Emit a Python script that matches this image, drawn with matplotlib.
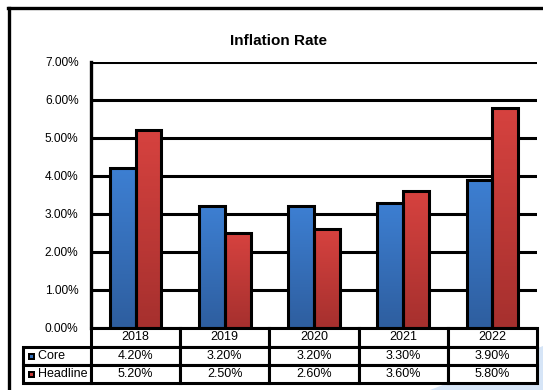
import matplotlib.pyplot as plt
import numpy as np
from matplotlib.patches import Rectangle, Polygon
from matplotlib.table import Table
from matplotlib.lines import Line2D

plt.rcParams['font.family'] = ['Liberation Sans', 'DejaVu Sans']

years = ['2018', '2019', '2020', '2021', '2022']
core = [4.20, 3.20, 3.20, 3.30, 3.90]
headline = [5.20, 2.50, 2.60, 3.60, 5.80]
series_names = ['Core', 'Headline']
yticks = [0, 1, 2, 3, 4, 5, 6, 7]

W, H = 543, 390
fig = plt.figure(figsize=(W / 100, H / 100), dpi=100)


def fx(px):
    return px / W


def fy(py):
    return 1 - py / H


# light blue corner decoration, kept behind everything else
fig.patches.append(Polygon([(fx(430), fy(390)), (fx(543), fy(346)), (fx(543), fy(390))],
                           closed=True, transform=fig.transFigure,
                           facecolor='#d6e5f7', edgecolor='none', zorder=-1))

# outer frame (top and left edges)
fig.add_artist(Line2D([fx(8), fx(543)], [fy(8), fy(8)], color='black', lw=2.4,
                      transform=fig.transFigure))
fig.add_artist(Line2D([fx(9), fx(9)], [fy(8), fy(390)], color='black', lw=2.4,
                      transform=fig.transFigure))

left, right, top, bottom = 91, 537, 62, 328
ax = fig.add_axes([fx(left), fy(bottom), fx(right - left), (bottom - top) / H])

x = np.arange(len(years))
bw = 0.29
bars_core = ax.bar(x - bw / 2, core, bw, color='#3470bb', edgecolor='black', lw=2.2, zorder=3)
bars_head = ax.bar(x + bw / 2, headline, bw, color='#c63a37', edgecolor='black', lw=2.2, zorder=3)


def shade(bars, c_top, c_bot):
    # vertical gradient fill clipped to each bar
    grad = np.linspace(0, 1, 64).reshape(-1, 1)
    ct = np.array(plt.matplotlib.colors.to_rgb(c_top))
    cb = np.array(plt.matplotlib.colors.to_rgb(c_bot))
    img = (ct * (1 - grad) + cb * grad).reshape(64, 1, 3)
    for b in bars:
        x0, y0 = b.get_x(), b.get_y()
        w, h = b.get_width(), b.get_height()
        im = ax.imshow(img, extent=[x0, x0 + w, y0, y0 + h], aspect='auto',
                       zorder=3.5, origin='upper')
        im.set_clip_path(b)
        b.set_facecolor('none')
        b.set_zorder(4)


shade(bars_core, '#3d7fd2', '#2e5e9f')
shade(bars_head, '#d6423f', '#a6302e')

ax.set_xlim(-0.5, len(years) - 0.5)
ax.set_ylim(0, 7)
ax.set_yticks(yticks)
ax.set_yticklabels(['%.2f%%' % t for t in yticks], fontsize=8.6)
ax.tick_params(axis='y', length=0, pad=9)
ax.set_xticks([])
ax.yaxis.grid(True, color='black', lw=2.2)
ax.set_axisbelow(True)
for s in ['top', 'right', 'bottom']:
    ax.spines[s].set_visible(False)
ax.spines['left'].set_linewidth(2.4)

fig.text(fx(278), fy(41), 'Inflation Rate', fontsize=11, fontweight='bold',
         ha='center', va='center')

# data table under the plot; the bbox covers the year columns only,
# the row label column sits to its left
ph = bottom - top
pw = right - left
lab_w, col_w = 68 / pw, 1 / len(years)
hdr_h, row_h = 19, 18
tbl_h = hdr_h + 2 * row_h
tbl = Table(ax, bbox=[0, -tbl_h / ph, 1, tbl_h / ph])
for j, yr in enumerate(years):
    tbl.add_cell(0, j, width=col_w, height=hdr_h / ph, text=yr, loc='center')
for i, (name, vals) in enumerate(zip(series_names, [core, headline])):
    c = tbl.add_cell(i + 1, -1, width=lab_w, height=row_h / ph, text='    ' + name, loc='left')
    c.PAD = 0.02
    for j, v in enumerate(vals):
        tbl.add_cell(i + 1, j, width=col_w, height=row_h / ph, text='%.2f%%' % v, loc='center')
tbl.auto_set_font_size(False)
for cell in tbl.get_celld().values():
    cell.set_linewidth(2.2)
    cell.set_edgecolor('black')
    cell.set_facecolor('white')
    cell.get_text().set_fontsize(9)
ax.add_table(tbl)
tbl.set_clip_on(False)
tbl.set_zorder(5)

# legend keys in the row labels
for i, col in enumerate(['#3470bb', '#c63a37']):
    yc = -(hdr_h + row_h * (i + 0.5)) / ph
    ax.add_patch(Rectangle((-63 / pw, yc - 3.5 / ph), 7 / pw, 7 / ph, transform=ax.transAxes,
                           facecolor='black', edgecolor='none', clip_on=False, zorder=6))
    ax.add_patch(Rectangle((-61 / pw, yc - 1.5 / ph), 3 / pw, 3 / ph, transform=ax.transAxes,
                           facecolor=col, edgecolor='none', clip_on=False, zorder=7))

fig.savefig('out.png', dpi=100)
